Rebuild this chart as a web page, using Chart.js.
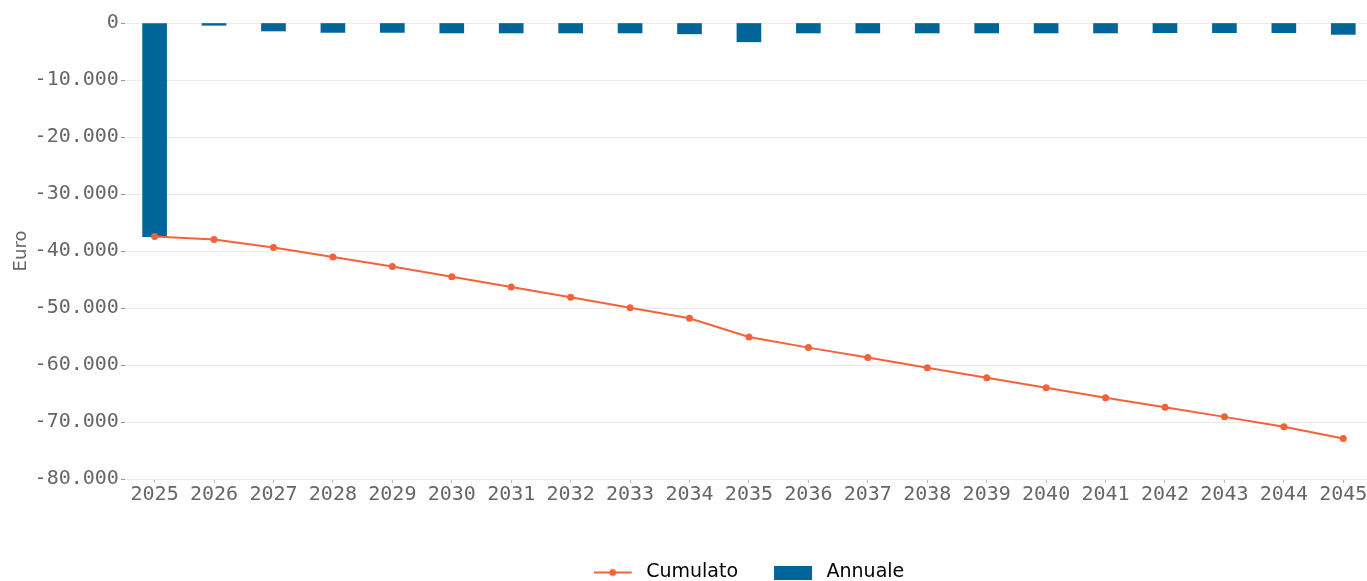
<!DOCTYPE html>
<html lang="it">
<head>
    <meta charset="UTF-8">
    <title>Cumulato e Annuale</title>
    <script src="https://cdn.jsdelivr.net/npm/chart.js"></script>
    <style>
        html, body { margin: 0; padding: 0; background: #fff; overflow: hidden; }
        /* a little wider than the window: the plot runs right to the edge */
        #wrap { width: 1377px; height: 581px; }
    </style>
</head>
<body>
    <div id="wrap"><canvas id="chart"></canvas></div>

    <script>
        // Data
        const years = ['2025', '2026', '2027', '2028', '2029', '2030', '2031', '2032', '2033', '2034', '2035',
                       '2036', '2037', '2038', '2039', '2040', '2041', '2042', '2043', '2044', '2045'];
        const annuale = [-37500, -400, -1400, -1650, -1650, -1750, -1750, -1750, -1750, -1900, -3300,
                         -1750, -1750, -1750, -1750, -1750, -1750, -1700, -1700, -1700, -2000];
        const cumulato = [-37450, -38000, -39400, -41050, -42700, -44500, -46300, -48100, -49950, -51800, -55100,
                          -56950, -58700, -60500, -62250, -64000, -65750, -67400, -69100, -70850, -72900];

        const lineColor = '#f4623a';
        const barColor = '#006699';
        const textGray = '#666666';

        // small images for the legend symbols
        function lineSymbol() {
            const c = document.createElement('canvas');
            c.width = 43; c.height = 14;
            const g = c.getContext('2d');
            g.strokeStyle = lineColor; g.lineWidth = 2;
            g.beginPath(); g.moveTo(0, 7); g.lineTo(38, 7); g.stroke();
            g.fillStyle = lineColor;
            g.beginPath(); g.arc(19, 7, 3.5, 0, Math.PI * 2); g.fill();
            return c;
        }
        function boxSymbol() {
            const c = document.createElement('canvas');
            c.width = 43; c.height = 14;
            const g = c.getContext('2d');
            g.fillStyle = barColor;
            g.fillRect(0, 0, 38, 14);
            return c;
        }

        const fmt = v => v.toLocaleString('it-IT');

        // legend is centred on the plot area, not on the whole canvas
        const centreLegend = {
            id: 'centreLegend',
            afterLayout(chart) {
                const lg = chart.legend;
                if (!lg) return;
                const shift = (chart.chartArea.left + chart.chartArea.right) / 2 - (lg.left + lg.right) / 2;
                lg.left += shift;
                lg.right += shift;
            }
        };

        const ctx = document.getElementById('chart').getContext('2d');
        new Chart(ctx, {
            data: {
                labels: years,
                datasets: [
                    {
                        type: 'line',
                        label: 'Cumulato',
                        data: cumulato,
                        borderColor: lineColor,
                        backgroundColor: lineColor,
                        borderWidth: 2,
                        pointRadius: 3.5,
                        pointBorderWidth: 0,
                        tension: 0,
                        order: 0
                    },
                    {
                        type: 'bar',
                        label: 'Annuale',
                        data: annuale,
                        backgroundColor: barColor,
                        barThickness: 24,
                        order: 1
                    }
                ]
            },
            plugins: [centreLegend],
            options: {
                responsive: true,
                maintainAspectRatio: false,
                animation: false,
                layout: { padding: { top: 23, left: 11, right: 0, bottom: -11 } },
                plugins: {
                    tooltip: { enabled: false },
                    legend: {
                        position: 'bottom',
                        labels: {
                            usePointStyle: true,
                            pointStyleWidth: 43,
                            boxHeight: 14,
                            padding: 36,
                            color: '#222',
                            font: { family: 'DejaVu Sans', size: 19 },
                            generateLabels: () => [
                                { text: 'Cumulato', pointStyle: lineSymbol(), fillStyle: lineColor, strokeStyle: lineColor, lineWidth: 0, datasetIndex: 0 },
                                { text: 'Annuale', pointStyle: boxSymbol(), fillStyle: barColor, strokeStyle: barColor, lineWidth: 0, datasetIndex: 1 }
                            ]
                        }
                    }
                },
                scales: {
                    x: {
                        offset: true,
                        grid: { offset: false, drawOnChartArea: false, tickLength: 4, tickColor: '#bbb' },
                        border: { display: false },
                        ticks: {
                            color: textGray,
                            padding: 0,
                            maxRotation: 0,
                            font: { family: 'DejaVu Sans Mono', size: 20 }
                        },
                        afterFit: scale => { scale.height += 20; }
                    },
                    y: {
                        min: -80000,
                        max: 0,
                        grid: { color: '#ebebeb', tickLength: 4, tickColor: '#999' },
                        border: { display: false },
                        title: {
                            display: true,
                            text: 'Euro',
                            color: textGray,
                            font: { family: 'DejaVu Sans', size: 18 },
                            padding: { top: 0, bottom: 0 }
                        },
                        ticks: {
                            stepSize: 10000,
                            color: textGray,
                            padding: 2,
                            font: { family: 'DejaVu Sans Mono', size: 20 },
                            callback: v => fmt(v)
                        }
                    }
                }
            }
        });
    </script>
</body>
</html>
